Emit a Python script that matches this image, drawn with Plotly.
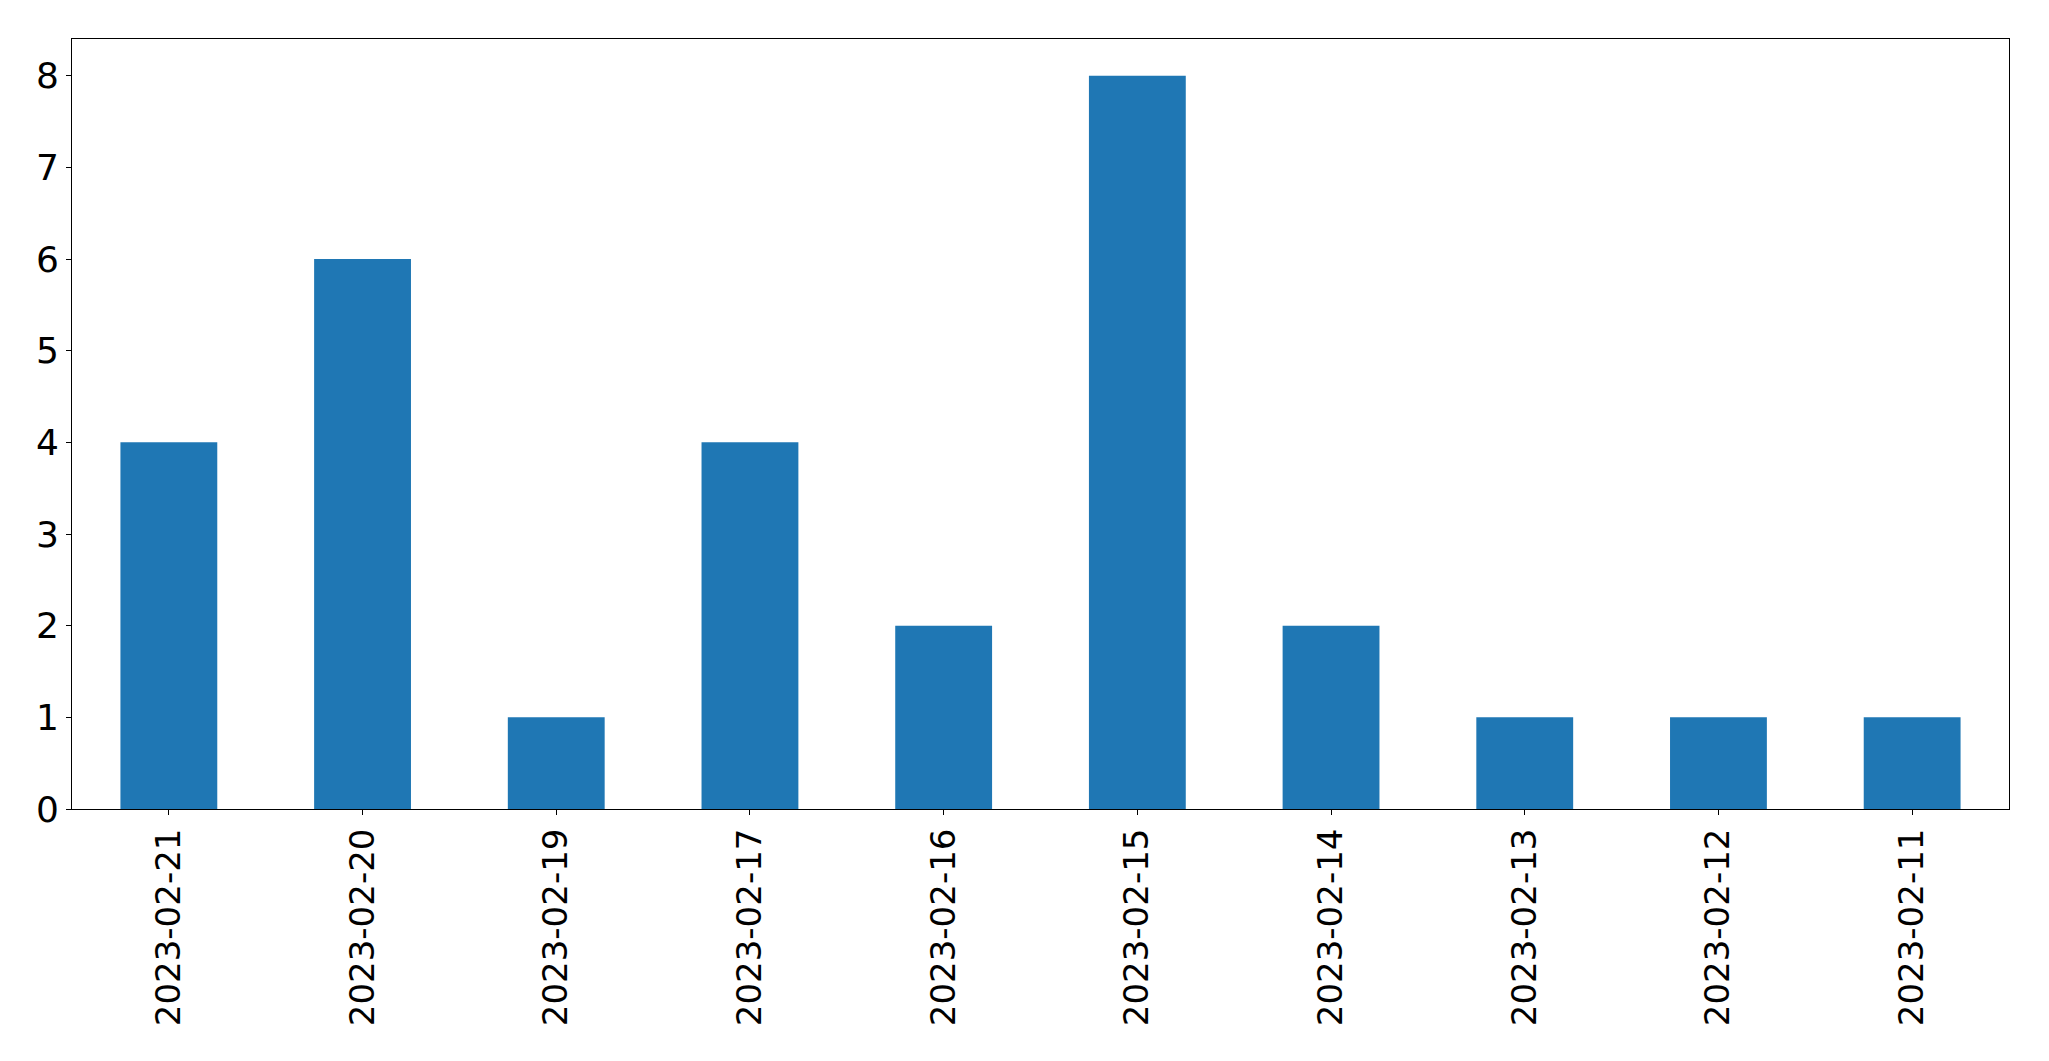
import plotly.graph_objects as go

dates = ["2023-02-21", "2023-02-20", "2023-02-19", "2023-02-17", "2023-02-16",
         "2023-02-15", "2023-02-14", "2023-02-13", "2023-02-12", "2023-02-11"]
counts = [4, 6, 1, 4, 2, 8, 2, 1, 1, 1]
y_ticks = [0, 1, 2, 3, 4, 5, 6, 7, 8]

fig = go.Figure(go.Bar(x=dates, y=counts, marker_color="#1f77b4",
                       marker_line_width=0, width=0.5))

fig.update_layout(
    width=2033, height=1045,
    margin=dict(l=64, r=32, t=31, b=244),
    paper_bgcolor="white", plot_bgcolor="white",
    font=dict(family="DejaVu Sans", size=35, color="black"),
    showlegend=False,
)
fig.update_xaxes(type="category", range=[-0.5, 9.5], tickangle=-90,
                 showline=True, mirror=True, linecolor="black", linewidth=1,
                 ticks="outside", ticklen=5, tickwidth=1, tickcolor="black",
                 showgrid=False, zeroline=False, tickfont=dict(size=34))
fig.update_yaxes(range=[0, 8.4], tickvals=y_ticks,
                 showline=True, mirror=True, linecolor="black", linewidth=1,
                 ticks="outside", ticklen=5, tickwidth=1, tickcolor="black",
                 showgrid=False, zeroline=False, tickfont=dict(size=36))

fig.write_html("out.html")
